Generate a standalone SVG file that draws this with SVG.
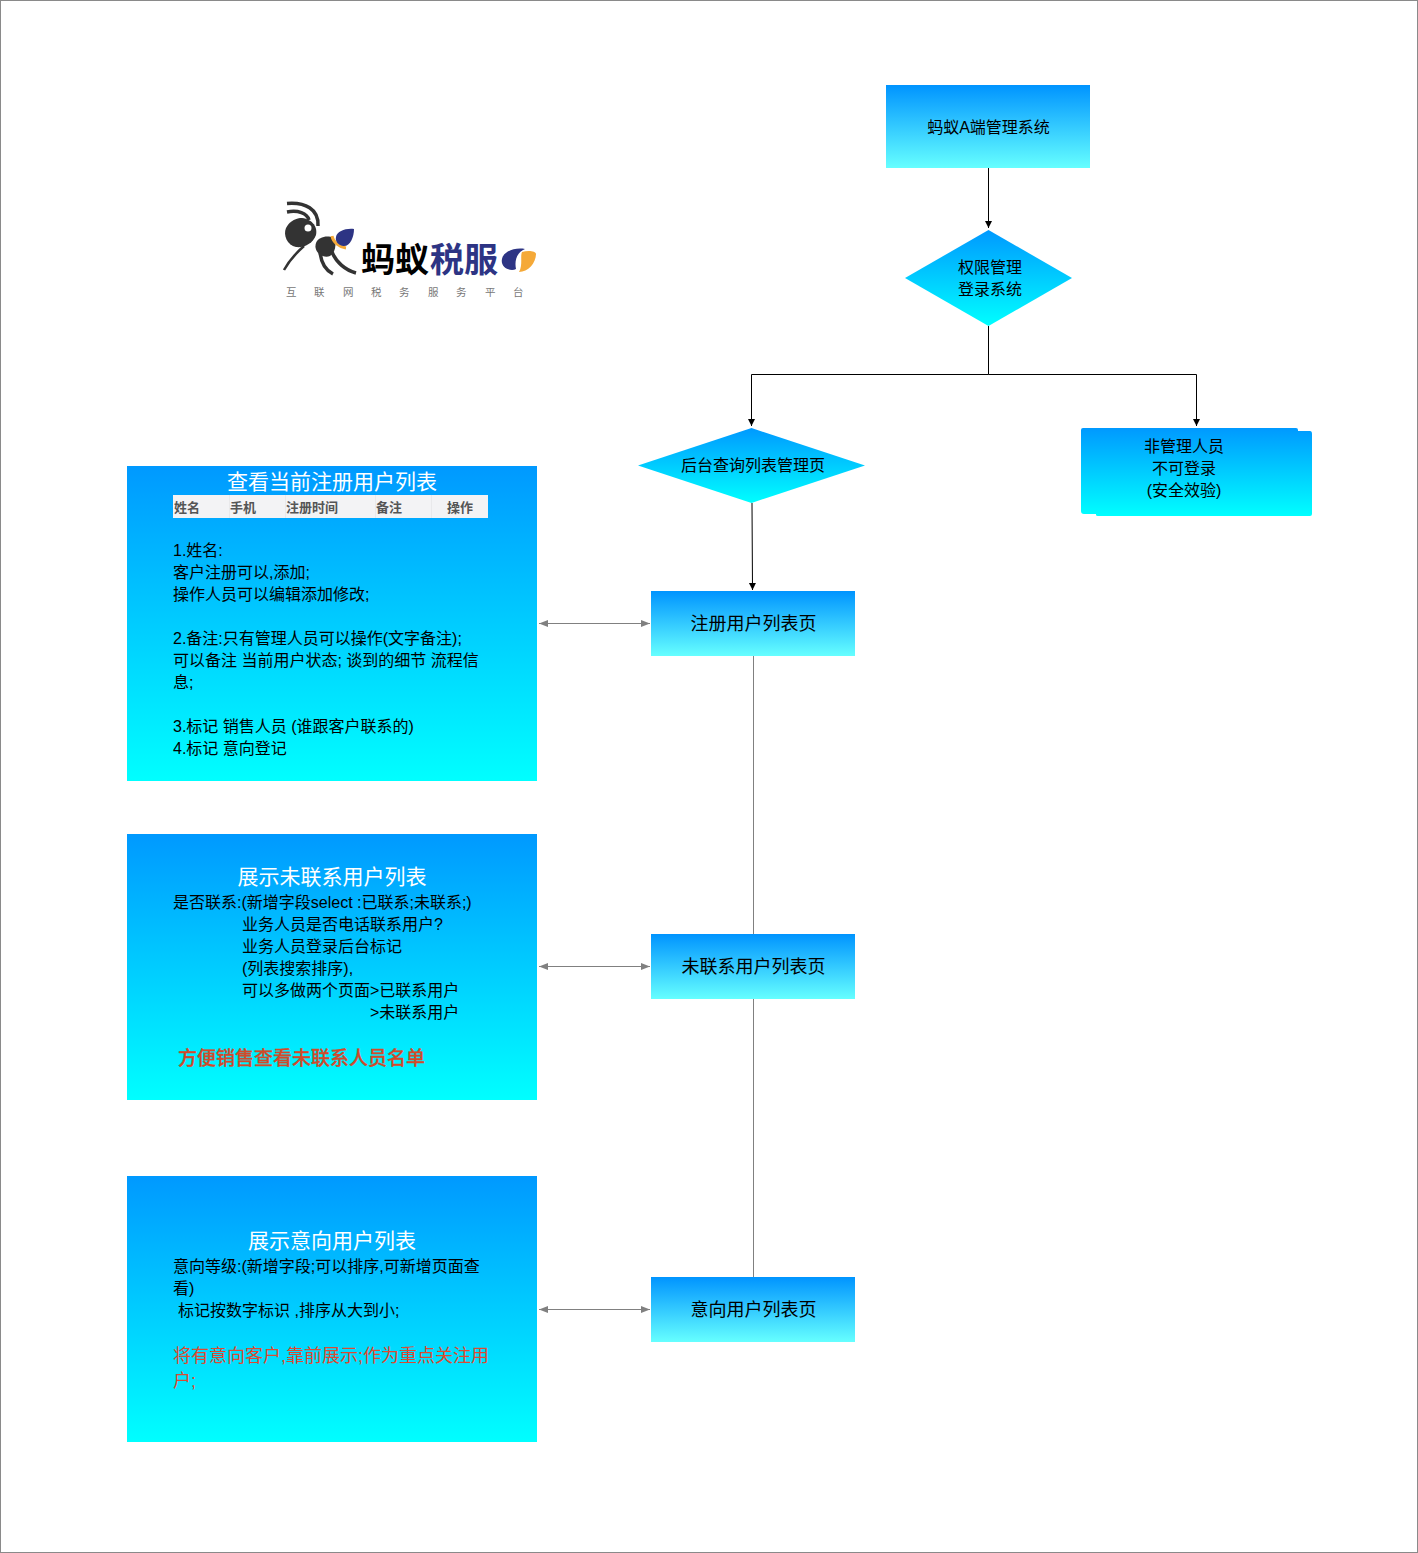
<svg xmlns="http://www.w3.org/2000/svg" width="1418" height="1553" viewBox="0 0 1418 1553">
<style>
text{font-family:"Liberation Sans","Noto Sans CJK SC",sans-serif;fill:#000;font-size:16px}
.c{text-anchor:middle}
.t16{font-size:18px}
.w{fill:#fff;font-size:21px;text-anchor:middle}
.r{fill:#dd4a30;font-size:18px}
.r2{fill:#d2492a;font-size:19px;font-weight:500;stroke:#d2492a;stroke-width:.3}
.hd{fill:#555;font-size:13px;font-weight:bold}
.lg{font-size:10.500px;fill:#777}
.b{fill:url(#g1)}
.n{fill:url(#g2)}
.k{fill:none;stroke:#000;stroke-width:1}
.y{fill:none;stroke:#808080;stroke-width:1}
</style>
<defs>
<linearGradient id="g1" x1="0" y1="0" x2="0" y2="1"><stop offset="0" stop-color="#0099ff"/><stop offset="1" stop-color="#00ffff"/></linearGradient>
<linearGradient id="g2" x1="0" y1="0" x2="0" y2="1"><stop offset="0" stop-color="#0094ff"/><stop offset="1" stop-color="#66ffff"/></linearGradient>
<marker id="ak" markerWidth="8" markerHeight="8" refX="7" refY="4" orient="auto" markerUnits="userSpaceOnUse"><path d="M0 0.5L7 4L0 7.500Z" fill="#000"/></marker>
<marker id="ay" markerWidth="10" markerHeight="8" refX="9" refY="4" orient="auto-start-reverse" markerUnits="userSpaceOnUse"><path d="M0 0.500L9 4L0 7.500Z" fill="#808080"/></marker>
</defs>
<rect x="0.5" y="0.5" width="1417" height="1552" fill="#fff" stroke="#8a8a8a"/>

<g id="connectors">
<path class="k" d="M988.5 168V228" marker-end="url(#ak)"/>
<path class="k" d="M988.5 326V374.500H751.500V426" marker-end="url(#ak)"/>
<path class="k" d="M988.5 374.500H1196.500V426" marker-end="url(#ak)"/>
<path class="k" d="M752 503L752.500 590" marker-end="url(#ak)"/>
<path class="y" d="M753.500 656V934M753.500 999V1277"/>
<path class="y" d="M539 623.500H650" marker-start="url(#ay)" marker-end="url(#ay)"/>
<path class="y" d="M539 966.500H650" marker-start="url(#ay)" marker-end="url(#ay)"/>
<path class="y" d="M539 1309.500H650" marker-start="url(#ay)" marker-end="url(#ay)"/>
</g>

<g id="logo">
<path d="M287 203.500C305 202 319 209 318 226" fill="none" stroke="#333" stroke-width="3.500"/>
<path d="M287 212C298 210 307 213 309 220" fill="none" stroke="#333" stroke-width="3.500"/>
<path d="M300 218C311 218 318 226 316 235C313 244 303 248 296 247C287 245 283 235 286 228C289 222 294 219 300 218Z" fill="#333"/>
<circle cx="308" cy="228" r="3.500" fill="#fff"/>
<path d="M304 246C296 253 289 261 284 270" fill="none" stroke="#333" stroke-width="2.500"/>
<path d="M316 243C318 237 328 235 333 238C337 243 336 252 330 256C323 259 313 252 316 243Z" fill="#333"/>
<path d="M320 252C321 262 325 270 333 274M332 252C336 262 345 270 356 273" fill="none" stroke="#333" stroke-width="3.500"/>
<path d="M332 236C333 242 339 247 346 248" fill="none" stroke="#f5a938" stroke-width="3"/>
<path d="M336 237C337 231 346 228 354 229C354 237 350 247 343 246C338 245 335 241 336 237Z" fill="#2d3484"/>
<path d="M519 272C523 265 520 256 522 252C528 250 536 251 536 254C536 263 528 272 519 272Z" fill="#f5a938"/>
<path d="M502 259C503 252 514 247 525 249C518 252 514 259 516 269C511 272 500 268 502 259Z" fill="#2d3484"/>
<text x="361" y="272" style="font-size:34px;font-weight:bold">蚂蚁</text>
<text x="430" y="272" style="font-size:34px;font-weight:bold;fill:#2d3484">税服</text>
<text class="lg" x="286" y="296">互</text>
<text class="lg" x="314" y="296">联</text>
<text class="lg" x="343" y="296">网</text>
<text class="lg" x="371" y="296">税</text>
<text class="lg" x="399" y="296">务</text>
<text class="lg" x="428" y="296">服</text>
<text class="lg" x="456" y="296">务</text>
<text class="lg" x="485" y="296">平</text>
<text class="lg" x="513" y="296">台</text>
</g>

<g id="n-system"><rect class="n" x="886" y="85" width="204" height="83"/><text class="c" x="988.500" y="133">蚂蚁A端管理系统</text></g>
<g id="n-login"><path class="b" d="M988.500 230L1072 278L988.500 326L905 278Z"/><text class="c" x="990" y="273">权限管理</text><text class="c" x="990" y="295">登录系统</text></g>
<g id="n-query"><path class="b" d="M751.500 428L865 465.500L751.500 503L638 465.500Z"/><text class="c" x="753" y="471">后台查询列表管理页</text></g>
<g id="n-nonadmin">
<path class="b" d="M1083 428H1296Q1298 428 1298 430V431H1310Q1312 431 1312 434V514Q1312 516 1310 516H1098Q1096 516 1096 515V514H1084Q1081 514 1081 511V430Q1081 428 1083 428Z"/>
<text class="c" x="1184" y="452">非管理人员</text><text class="c" x="1184" y="474">不可登录</text><text class="c" x="1184" y="496">(安全效验)</text>
</g>
<g id="n-reg"><rect class="n" x="651" y="591" width="204" height="65"/><text class="c t16" x="753.500" y="630">注册用户列表页</text></g>
<g id="n-uncontact"><rect class="n" x="651" y="934" width="204" height="65"/><text class="c t16" x="753.500" y="973">未联系用户列表页</text></g>
<g id="n-intent"><rect class="n" x="651" y="1277" width="204" height="65"/><text class="c t16" x="753.500" y="1316">意向用户列表页</text></g>

<g id="n-panel1">
<rect class="b" x="127" y="466" width="410" height="315"/>
<text class="w" x="332" y="489">查看当前注册用户列表</text>
<rect x="173" y="495" width="315" height="23" fill="#f3f3f5"/>
<path d="M229.500 495V518M285.500 495V518M375.500 495V518M431.500 495V518" stroke="#e9e9eb" stroke-width="1"/>
<text class="hd" x="174" y="512">姓名</text><text class="hd" x="230" y="512">手机</text><text class="hd" x="286" y="512">注册时间</text><text class="hd" x="376" y="512">备注</text><text class="hd" x="447" y="512">操作</text>
<text x="173" y="556">1.姓名:</text>
<text x="173" y="578">客户注册可以,添加;</text>
<text x="173" y="600">操作人员可以编辑添加修改;</text>
<text x="173" y="644">2.备注:只有管理人员可以操作(文字备注);</text>
<text x="173" y="666">可以备注 当前用户状态; 谈到的细节 流程信</text>
<text x="173" y="688">息;</text>
<text x="173" y="732">3.标记 销售人员 (谁跟客户联系的)</text>
<text x="173" y="754">4.标记 意向登记</text>
</g>

<g id="n-panel2">
<rect class="b" x="127" y="834" width="410" height="266"/>
<text class="w" x="332" y="884">展示未联系用户列表</text>
<text x="173" y="908">是否联系:(新增字段select :已联系;未联系;)</text>
<text x="242" y="930">业务人员是否电话联系用户?</text>
<text x="242" y="952">业务人员登录后台标记</text>
<text x="242" y="974">(列表搜索排序),</text>
<text x="242" y="996">可以多做两个页面&gt;已联系用户</text>
<text x="370" y="1018">&gt;未联系用户</text>
<text class="r2" x="178" y="1065">方便销售查看未联系人员名单</text>
</g>

<g id="n-panel3">
<rect class="b" x="127" y="1176" width="410" height="266"/>
<text class="w" x="332" y="1248">展示意向用户列表</text>
<text x="173" y="1272">意向等级:(新增字段;可以排序,可新增页面查</text>
<text x="173" y="1294">看)</text>
<text x="178" y="1316">标记按数字标识 ,排序从大到小;</text>
<text class="r" x="173" y="1362">将有意向客户,靠前展示;作为重点关注用</text>
<text class="r" x="173" y="1387">户;</text>
</g>
</svg>
